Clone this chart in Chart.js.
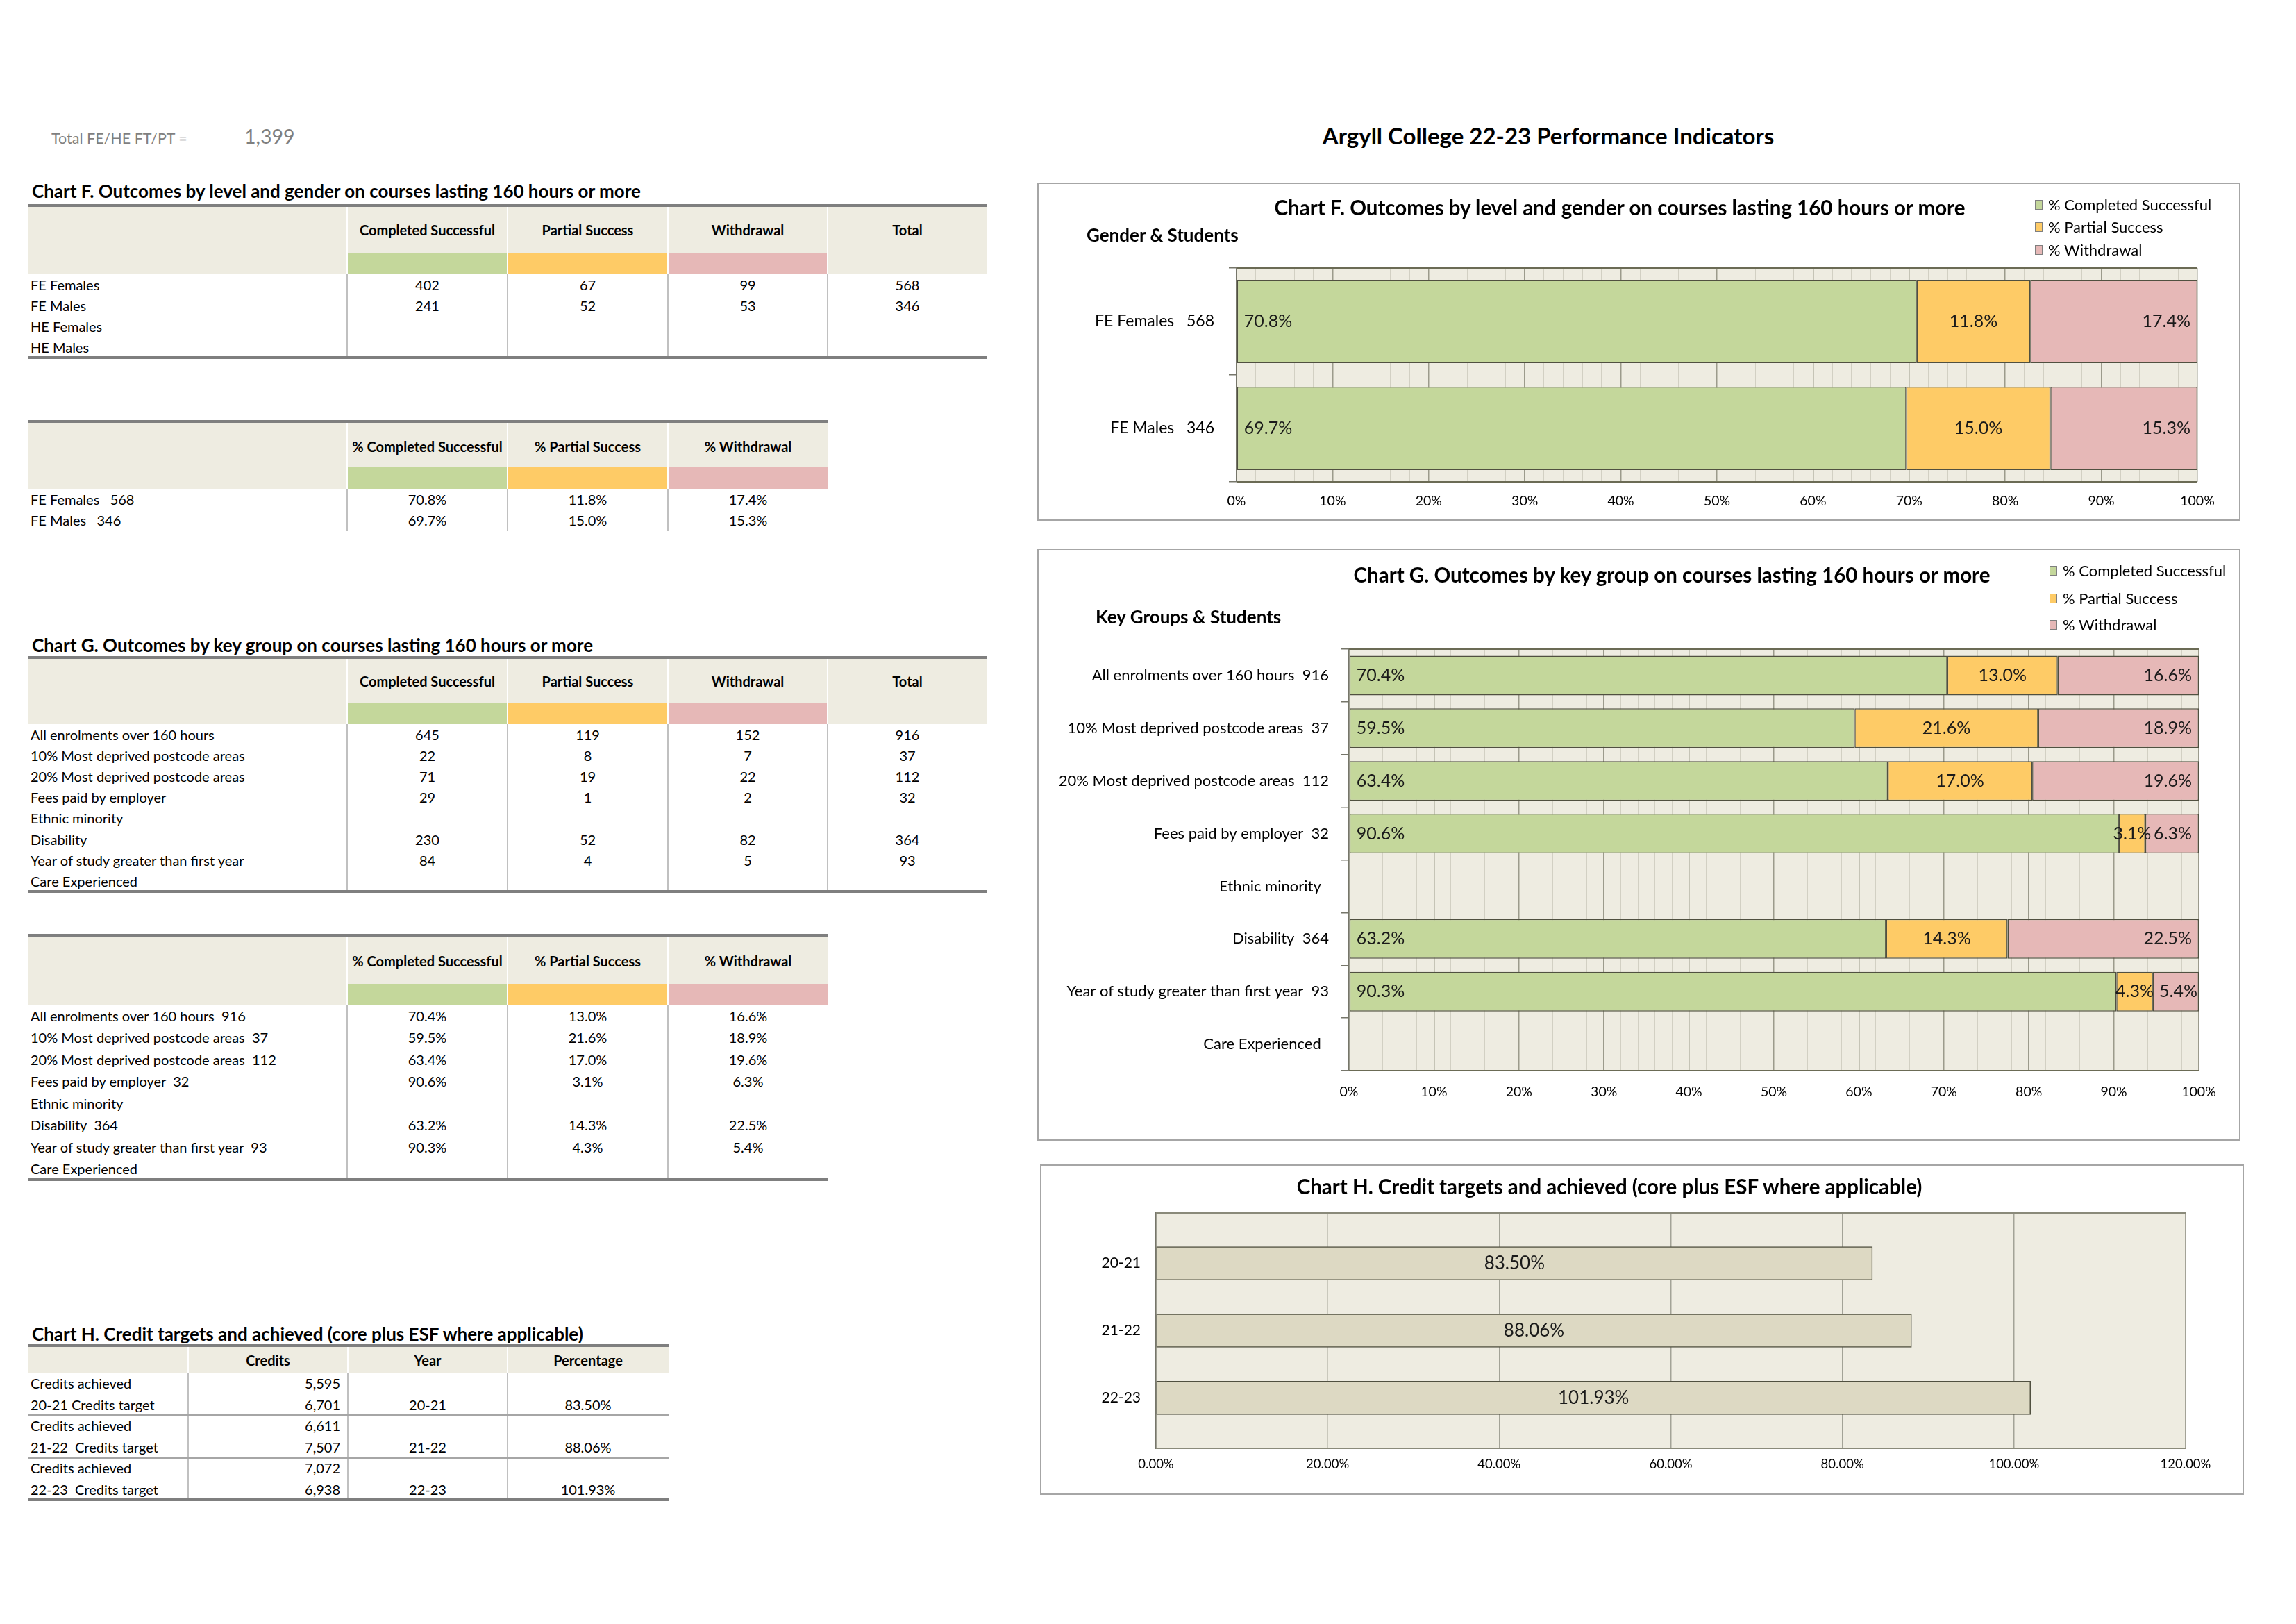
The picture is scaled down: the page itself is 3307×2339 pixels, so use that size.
<!DOCTYPE html>
<html>
<head>
<meta charset="utf-8">
<title>Argyll College 22-23 Performance Indicators</title>
<script src="https://cdn.jsdelivr.net/npm/chart.js@4.4.1/dist/chart.umd.min.js"></script>
<style>
  html, body { margin: 0; padding: 0; background: #fff; }
  #page { width: 3307px; height: 2339px; position: relative; overflow: hidden; font-family: Lato, 'Open Sans', sans-serif; color: #000; }
  .txt { position: absolute; white-space: pre; line-height: 1.2; }
  .rect { position: absolute; }
  .box { position: absolute; box-sizing: border-box; border: 2px solid #a6a6a6; }
  .cv { position: absolute; }
</style>
</head>
<body>
<div id="page"></div>
<script>
// ---- data ----
const totalEnrolments = 1399;

const outcomeHeads = ['Completed Successful', 'Partial Success', 'Withdrawal', 'Total'];
const outcomeSeries = ['% Completed Successful', '% Partial Success', '% Withdrawal'];

// Chart F: level and gender
const fGroups = ['FE Females', 'FE Males', 'HE Females', 'HE Males'];
const fCompleted = [402, 241, null, null];
const fPartial = [67, 52, null, null];
const fWithdrawal = [99, 53, null, null];
const fTotal = [568, 346, null, null];
const fPctCompleted = [70.8, 69.7];
const fPctPartial = [11.8, 15.0];
const fPctWithdrawal = [17.4, 15.3];

// Chart G: key groups
const gGroups = ['All enrolments over 160 hours', '10% Most deprived postcode areas', '20% Most deprived postcode areas',
  'Fees paid by employer', 'Ethnic minority', 'Disability', 'Year of study greater than first year', 'Care Experienced'];
const gCompleted = [645, 22, 71, 29, null, 230, 84, null];
const gPartial = [119, 8, 19, 1, null, 52, 4, null];
const gWithdrawal = [152, 7, 22, 2, null, 82, 5, null];
const gTotal = [916, 37, 112, 32, null, 364, 93, null];
const gPctCompleted = [70.4, 59.5, 63.4, 90.6, null, 63.2, 90.3, null];
const gPctPartial = [13.0, 21.6, 17.0, 3.1, null, 14.3, 4.3, null];
const gPctWithdrawal = [16.6, 18.9, 19.6, 6.3, null, 22.5, 5.4, null];

// Chart H: credits
const hYears = ['20-21', '21-22', '22-23'];
const hTargetLabels = ['20-21 Credits target', '21-22  Credits target', '22-23  Credits target'];
const hAchieved = [5595, 6611, 7072];
const hTarget = [6701, 7507, 6938];
const hPct = [83.50, 88.06, 101.93];

// ---- styles ----
const GREEN = '#C4D79B', ORANGE = '#FECB66', PINK = '#E6B8B7';
const BEIGE = '#EEECE1', H_BAR = '#DDD9C3', BAR_EDGE = '#505040', AXIS = '#76766a';
const FONT = "Lato, 'Open Sans', sans-serif";
Chart.defaults.font.family = FONT;
Chart.defaults.color = '#000';

const page = document.getElementById('page');

function text(str, x, cy, o = {}) {
  const d = document.createElement('div');
  d.className = 'txt';
  d.textContent = str;
  d.style.fontSize = (o.size || 20) + 'px';
  if (o.bold) d.style.fontWeight = 'bold';
  if (o.color) d.style.color = o.color;
  d.style.left = x + 'px';
  d.style.top = cy + 'px';
  const tx = o.align === 'center' ? '-50%' : o.align === 'right' ? '-100%' : '0';
  d.style.transform = `translate(${tx}, -50%)`;
  page.appendChild(d);
  return d;
}

function rect(x, y, w, h, color, extra) {
  const d = document.createElement('div');
  d.className = 'rect';
  Object.assign(d.style, { left: x + 'px', top: y + 'px', width: w + 'px', height: h + 'px', background: color }, extra || {});
  page.appendChild(d);
  return d;
}

const num = v => (v == null ? '' : v.toLocaleString('en-GB'));
const pct1 = v => (v == null ? '' : v.toFixed(1) + '%');
const pct2 = v => (v == null ? '' : v.toFixed(2) + '%');

// ---- spreadsheet tables on the left ----
function drawTable(t) {
  const xs = [t.left];
  t.cols.forEach(w => xs.push(xs[xs.length - 1] + w));
  const width = xs[xs.length - 1] - t.left;
  const bodyTop = t.top + t.headH;
  const bodyBottom = bodyTop + t.rowH * t.rows.length;

  rect(t.left, t.top, width, t.headH, BEIGE);
  (t.colors || []).forEach((c, i) => { if (c) rect(xs[i], t.top + t.headH - t.colorH, t.cols[i], t.colorH, c); });
  for (let i = 1; i < t.cols.length; i++) rect(xs[i] - 1, t.top, 2, t.headH, '#fff');
  rect(t.left, t.top - 2, width, 4, '#7f7f7f');
  t.heads.forEach((h, i) => { if (h) text(h, xs[i] + t.cols[i] / 2, t.top + t.headY, { align: 'center', size: 20, bold: true }); });

  for (let i = 1; i < t.cols.length; i++) rect(xs[i] - 1, bodyTop, 2, (t.vEnd || bodyBottom) - bodyTop, '#c0c0c0');

  t.rows.forEach((r, ri) => {
    const cy = bodyTop + t.rowH * (ri + 0.5);
    r.forEach((cell, ci) => {
      if (cell === '' || cell == null) return;
      const al = t.aligns[ci];
      const x = al === 'left' ? xs[ci] + 4 : al === 'right' ? xs[ci + 1] - 11 : xs[ci] + t.cols[ci] / 2;
      text(String(cell), x, cy, { align: al, size: 20 });
    });
  });
  (t.seps || []).forEach(k => rect(t.left, bodyTop + t.rowH * k - 1.5, width, 3, '#a6a6a6'));
  if (t.bottom) rect(t.left, bodyBottom - 2, width, 4, '#7f7f7f');
}

const withTotal = (name, total, gap) => (total == null ? name : name + gap + total);

text('Total FE/HE FT/PT =', 74, 200, { size: 21.5, color: '#7f7f7f' });
text(num(totalEnrolments), 352, 196, { size: 28.5, color: '#7f7f7f' });
text('Argyll College 22-23 Performance Indicators', 2230, 196, { size: 33, bold: true, align: 'center' });

text('Chart F. Outcomes by level and gender on courses lasting 160 hours or more', 46, 276, { size: 26, bold: true });
drawTable({
  left: 40, top: 296, cols: [460, 231, 231, 230, 230], headH: 99, colorH: 31, headY: 35, rowH: 30,
  heads: [''].concat(outcomeHeads), colors: [null, GREEN, ORANGE, PINK, null],
  aligns: ['left', 'center', 'center', 'center', 'center'], bottom: true,
  rows: fGroups.map((g, i) => [g, num(fCompleted[i]), num(fPartial[i]), num(fWithdrawal[i]), num(fTotal[i])])
});

const fPctLabels = fGroups.filter((g, i) => fTotal[i] != null).map((g, i) => withTotal(g, fTotal[i], '   '));
drawTable({
  left: 40, top: 607, cols: [460, 231, 231, 231], headH: 97, colorH: 31, headY: 36, rowH: 30, vEnd: 765,
  heads: [''].concat(outcomeSeries), colors: [null, GREEN, ORANGE, PINK],
  aligns: ['left', 'center', 'center', 'center'],
  rows: fPctLabels.map((g, i) => [g, pct1(fPctCompleted[i]), pct1(fPctPartial[i]), pct1(fPctWithdrawal[i])])
});

text('Chart G. Outcomes by key group on courses lasting 160 hours or more', 46, 930, { size: 26, bold: true });
drawTable({
  left: 40, top: 947, cols: [460, 231, 231, 230, 230], headH: 96, colorH: 30, headY: 34, rowH: 30.1,
  heads: [''].concat(outcomeHeads), colors: [null, GREEN, ORANGE, PINK, null],
  aligns: ['left', 'center', 'center', 'center', 'center'], bottom: true,
  rows: gGroups.map((g, i) => [g, num(gCompleted[i]), num(gPartial[i]), num(gWithdrawal[i]), num(gTotal[i])])
});

drawTable({
  left: 40, top: 1347, cols: [460, 231, 231, 231], headH: 100, colorH: 30, headY: 37, rowH: 31.5,
  heads: [''].concat(outcomeSeries), colors: [null, GREEN, ORANGE, PINK],
  aligns: ['left', 'center', 'center', 'center'], bottom: true,
  rows: gGroups.map((g, i) => [withTotal(g, gTotal[i], '  '), pct1(gPctCompleted[i]), pct1(gPctPartial[i]), pct1(gPctWithdrawal[i])])
});

text('Chart H. Credit targets and achieved (core plus ESF where applicable)', 46, 1922, { size: 26, bold: true });
const hRows = [];
hYears.forEach((y, i) => {
  hRows.push(['Credits achieved', num(hAchieved[i]), '', '']);
  hRows.push([hTargetLabels[i], num(hTarget[i]), y, pct2(hPct[i])]);
});
drawTable({
  left: 40, top: 1938, cols: [231, 230, 230, 232], headH: 39, headY: 21, rowH: 30.5,
  heads: ['', 'Credits', 'Year', 'Percentage'], aligns: ['left', 'right', 'center', 'center'],
  seps: [2, 4], bottom: true, rows: hRows
});

// ---- chart boxes on the right ----
function chartBox(left, top, w, h) {
  const b = document.createElement('div');
  b.className = 'box';
  Object.assign(b.style, { left: left + 'px', top: top + 'px', width: w + 'px', height: h + 'px' });
  page.appendChild(b);
  const wrap = document.createElement('div');
  wrap.className = 'cv';
  Object.assign(wrap.style, { left: left + 'px', top: top + 'px', width: w + 'px', height: h + 'px' });
  const cv = document.createElement('canvas');
  wrap.appendChild(cv);
  page.appendChild(wrap);
  return cv;
}

function legend(x, ys) {
  const colors = [GREEN, ORANGE, PINK];
  outcomeSeries.forEach((s, i) => {
    rect(x, ys[i] - 7, 11, 14, colors[i], { boxSizing: 'border-box', border: '1px solid #7f7f7f' });
    text(s, x + 19, ys[i], { size: 22 });
  });
}

// fills the plot area and draws its top / bottom edges
const plotBg = {
  id: 'plotBg',
  beforeDraw(chart, args, opts) {
    const { ctx, chartArea: a } = chart;
    ctx.save();
    ctx.fillStyle = opts.color || BEIGE;
    ctx.fillRect(a.left, a.top, a.right - a.left, a.bottom - a.top);
    ctx.restore();
  },
  beforeDatasetsDraw(chart, args, opts) {
    const { ctx, chartArea: a } = chart;
    ctx.save();
    ctx.strokeStyle = opts.frame || '#6b6b55';
    ctx.lineWidth = 2;
    ctx.beginPath();
    ctx.moveTo(a.left, a.top); ctx.lineTo(a.right, a.top);
    ctx.moveTo(a.left, a.bottom); ctx.lineTo(a.right, a.bottom);
    ctx.stroke();
    ctx.restore();
  }
};

// value labels inside the bars
const barLabels = {
  id: 'barLabels',
  afterDatasetsDraw(chart, args, opts) {
    const { ctx } = chart;
    ctx.save();
    ctx.font = opts.size + 'px ' + FONT;
    ctx.fillStyle = '#1a1a1a';
    ctx.textBaseline = 'middle';
    chart.data.datasets.forEach((ds, di) => {
      chart.getDatasetMeta(di).data.forEach((bar, i) => {
        const raw = ds.data[i];
        const v = raw != null && typeof raw === 'object' ? raw.x : raw;
        if (v == null) return;
        const { x, y, base } = bar.getProps(['x', 'y', 'base'], true);
        const l = Math.min(x, base), r = Math.max(x, base);
        const label = opts.format(v);
        const place = opts.place ? opts.place[di] : 'center';
        const tw = ctx.measureText(label).width;
        let tx;
        if (place === 'start') { ctx.textAlign = 'left'; tx = l + opts.pad; }
        else if (place === 'end') { ctx.textAlign = 'right'; tx = r - (r - l > tw + 2 * opts.pad ? opts.pad : 2); }
        else { ctx.textAlign = 'center'; tx = (l + r) / 2; }
        ctx.fillText(label, tx, y);
      });
    });
    ctx.restore();
  }
};

function outcomeChart(cv, labels, c, p, w, geo) {
  const ds = (label, data, color) => ({
    label, data, backgroundColor: color, borderColor: BAR_EDGE, borderWidth: 1.5, borderSkipped: false,
    barPercentage: geo.bar, categoryPercentage: 1
  });
  return new Chart(cv, {
    type: 'bar',
    data: {
      labels,
      datasets: [ds(outcomeSeries[0], c, GREEN), ds(outcomeSeries[1], p, ORANGE), ds(outcomeSeries[2], w, PINK)]
    },
    options: {
      indexAxis: 'y', responsive: true, maintainAspectRatio: false, animation: false,
      layout: { padding: { top: geo.top, right: geo.right, left: 0, bottom: 0 } },
      plugins: {
        legend: { display: false }, tooltip: { enabled: false },
        barLabels: { size: 25, pad: 10, place: ['start', 'center', 'end'], format: pct1 }
      },
      scales: {
        x: {
          stacked: true, min: 0, max: 100,
          ticks: {
            stepSize: 2, autoSkip: false, maxRotation: 0, padding: geo.xPad, font: { size: 19.5 },
            callback: v => (Math.round(v) % 10 === 0 ? Math.round(v) + '%' : '')
          },
          grid: {
            drawTicks: false,
            color: ctx => (ctx.tick && Math.round(ctx.tick.value) % 10 === 0 ? '#9c9b8c' : '#d2d0c3'),
            lineWidth: ctx => (ctx.tick && Math.round(ctx.tick.value) % 10 === 0 ? 1.5 : 1)
          },
          border: { display: false },
          afterFit: s => { s.height = geo.xH; }
        },
        y: {
          stacked: true,
          ticks: { autoSkip: false, padding: geo.yPad, font: { size: geo.ySize } },
          grid: { offset: true, drawOnChartArea: false, tickLength: 11, color: AXIS, lineWidth: 1.5 },
          border: { display: true, color: AXIS, width: 1.5 },
          afterFit: s => { s.width = geo.yW; }
        }
      }
    },
    plugins: [plotBg, barLabels]
  });
}

// Chart F
const fCanvas = chartBox(1494, 263, 1733, 487);
text('Chart F. Outcomes by level and gender on courses lasting 160 hours or more', 2333, 299, { size: 29.5, bold: true, align: 'center' });
text('Gender & Students', 1565, 339, { size: 26, bold: true });
legend(2931, [295, 327, 360]);
outcomeChart(fCanvas, fPctLabels, fPctCompleted, fPctPartial, fPctWithdrawal,
  { top: 123, right: 62, yW: 287, xH: 56, yPad: 21, xPad: 16, bar: 0.78, ySize: 23 });

// Chart G
const gCanvas = chartBox(1494, 790, 1733, 853);
text('Chart G. Outcomes by key group on courses lasting 160 hours or more', 2408, 828, { size: 29.5, bold: true, align: 'center' });
text('Key Groups & Students', 1578, 889, { size: 26, bold: true });
legend(2952, [822, 862, 900]);
outcomeChart(gCanvas,
  gGroups.map((g, i) => g + '  ' + (gTotal[i] == null ? '' : gTotal[i])),
  gPctCompleted, gPctPartial, gPctWithdrawal,
  { top: 145, right: 60, yW: 449, xH: 101, yPad: 18, xPad: 19, bar: 0.75, ySize: 22 });

// Chart H
const hCanvas = chartBox(1498, 1677, 1734, 476);
text('Chart H. Credit targets and achieved (core plus ESF where applicable)', 2318, 1709, { size: 29.5, bold: true, align: 'center' });
new Chart(hCanvas, {
  type: 'bar',
  data: {
    datasets: [{
      label: 'Percentage', data: hPct.map((v, i) => ({ x: v, y: i })),
      backgroundColor: H_BAR, borderColor: BAR_EDGE, borderWidth: 1.5, borderSkipped: false,
      barThickness: 48
    }]
  },
  options: {
    indexAxis: 'y', responsive: true, maintainAspectRatio: false, animation: false,
    layout: { padding: { top: 70, right: 84, left: 0, bottom: 0 } },
    plugins: {
      legend: { display: false }, tooltip: { enabled: false },
      plotBg: { frame: '#8a8a7a' },
      barLabels: { size: 26, pad: 0, format: pct2 }
    },
    scales: {
      x: {
        min: 0, max: 120,
        ticks: { stepSize: 20, maxRotation: 0, padding: 12, font: { size: 18.5 }, callback: v => v.toFixed(2) + '%' },
        grid: { drawTicks: false, color: '#a3a397', lineWidth: 1.5 },
        border: { display: false },
        afterFit: s => { s.height = 67; }
      },
      y: {
        type: 'linear', offset: false, min: -0.75, max: 2.75, reverse: true,
        ticks: { stepSize: 1, autoSkip: false, padding: 22, font: { size: 21 }, callback: v => hYears[v] ?? '' },
        grid: { display: false, drawTicks: false, offset: false },
        border: { display: true, color: AXIS, width: 1.5 },
        afterFit: s => { s.width = 167; }
      }
    }
  },
  plugins: [plotBg, barLabels]
});
</script>
</body>
</html>
